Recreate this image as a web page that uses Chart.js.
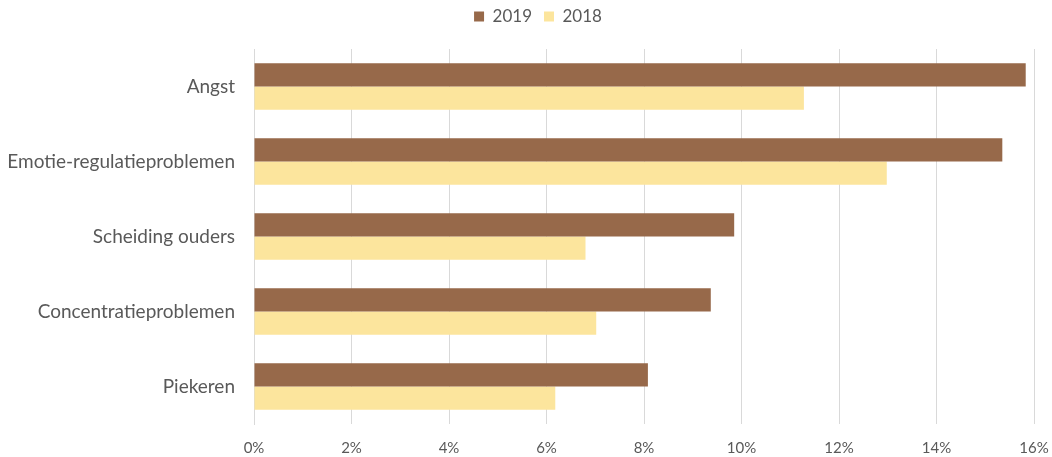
<!DOCTYPE html>
<html>
<head>
<meta charset="utf-8">
<script src="https://cdn.jsdelivr.net/npm/chart.js@4/dist/chart.umd.min.js"></script>
<style>
    html, body { margin: 0; padding: 0; background: #fff; overflow: hidden; }
    canvas { display: block; }
</style>
</head>
<body>
<canvas id="problemsChart" width="1052" height="457"></canvas>
<script>
const categories = ['Angst', 'Emotie-regulatieproblemen', 'Scheiding ouders', 'Concentratieproblemen', 'Piekeren'];
const values2019 = [15.83, 15.35, 9.85, 9.37, 8.08];
const values2018 = [11.28, 12.98, 6.80, 7.02, 6.18];
const seriesLabels = ['2019', '2018'];

const textColor = '#595959';
const gridColor = '#d9d9d9';
const fontFamily = 'Lato, "Open Sans", sans-serif';

// fixed legend band; items are nudged up/right after layout
const legendHeight = {
    id: 'legendHeight',
    beforeInit(chart) {
        const fit = chart.legend.fit;
        chart.legend.fit = function () {
            fit.bind(chart.legend)();
            this.height = 49;
        };
    },
    afterLayout(chart) {
        const lg = chart.legend;
        lg.top -= 4;
        lg.left += 21;
        lg.right += 21;
    }
};

new Chart(document.getElementById('problemsChart'), {
    type: 'bar',
    data: {
        labels: categories,
        datasets: [{
            label: seriesLabels[0],
            data: values2019,
            backgroundColor: '#97694a',
            borderWidth: 0
        }, {
            label: seriesLabels[1],
            data: values2018,
            backgroundColor: '#fce59d',
            borderWidth: 0
        }]
    },
    options: {
        indexAxis: 'y',
        responsive: false,
        animation: false,
        layout: { padding: { top: 0, right: 18, bottom: 0, left: 0 } },
        datasets: { bar: { categoryPercentage: 0.62, barPercentage: 1 } },
        plugins: {
            legend: {
                position: 'top',
                labels: {
                    color: textColor,
                    font: { family: fontFamily, size: 17 },
                    boxWidth: 10,
                    boxHeight: 10,
                    padding: 12
                }
            },
            tooltip: { enabled: false }
        },
        scales: {
            x: {
                min: 0,
                max: 16,
                afterFit: s => {
                    s.height = 33;
                    s.paddingLeft = 0;
                    s.paddingRight = 0;
                },
                ticks: {
                    stepSize: 2,
                    maxRotation: 0,
                    color: textColor,
                    font: { family: fontFamily, size: 15 },
                    padding: 15,
                    callback: v => v + '%'
                },
                grid: { color: gridColor, drawTicks: false },
                border: { display: false }
            },
            y: {
                afterFit: s => { s.width = 254; },
                ticks: {
                    color: textColor,
                    font: { family: fontFamily, size: 19 },
                    padding: 19
                },
                grid: { display: false, drawTicks: false },
                border: { color: gridColor }
            }
        }
    },
    plugins: [legendHeight]
});
</script>
</body>
</html>
